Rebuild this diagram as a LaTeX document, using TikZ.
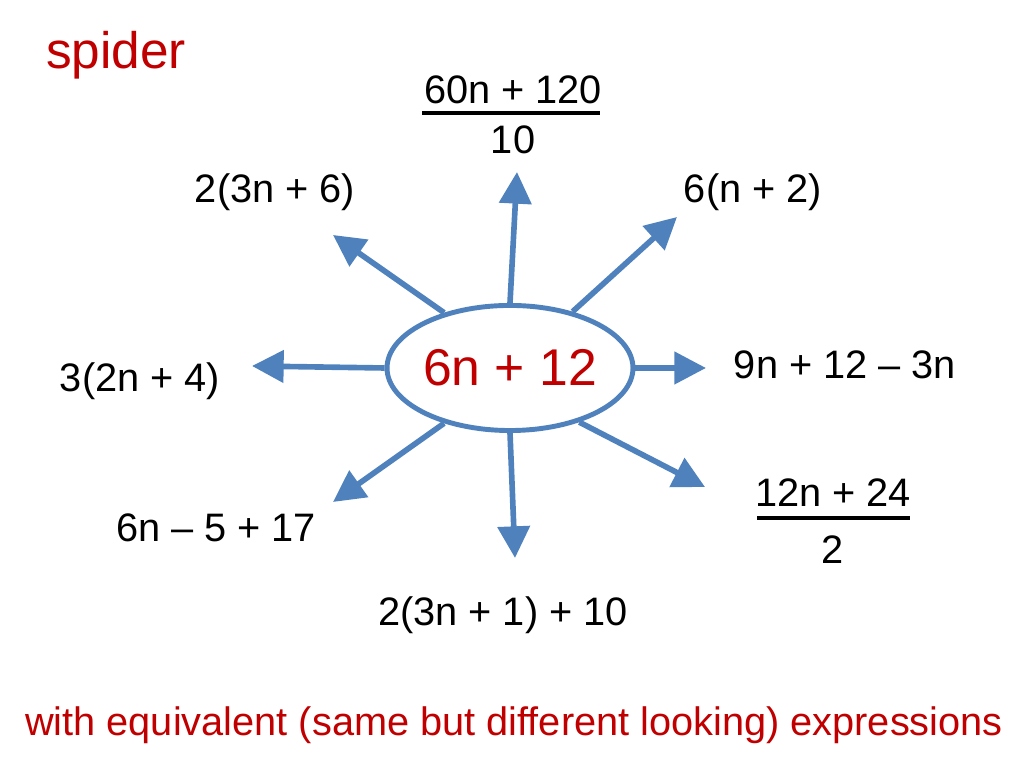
\documentclass[tikz,border=0pt]{standalone}
\usepackage{fontspec}
\setmainfont{Liberation Sans}
\usetikzlibrary{arrows.meta,shapes.geometric}
\definecolor{spiderblue}{RGB}{79,129,189}
\definecolor{spiderred}{RGB}{192,0,0}
\tikzset{
  leg/.style={draw=spiderblue, line width=1.6pt, -{Triangle[length=9pt,width=9pt]}},
  expr/.style={font=\fontsize{11.3pt}{13pt}\selectfont},
}
\begin{document}
\begin{tikzpicture}[x=0.01cm, y=-0.01cm]
\useasboundingbox (0,0) rectangle (1024,768);
% body
\node[draw=spiderblue, line width=1.4pt, ellipse, minimum width=2.2cm, minimum height=1.25cm, inner sep=0pt, font=\fontsize{14.7pt}{17pt}\selectfont, text=spiderred] (body) at (510,368) {6n + 12};
% leg ends
\coordinate (tU) at (517,172);
\coordinate (tUR) at (677,217);
\coordinate (tR) at (706,368);
\coordinate (tDR) at (705,487);
\coordinate (tD) at (515,558);
\coordinate (tDL) at (333,502);
\coordinate (tL) at (252,366);
\coordinate (tUL) at (333,235);
\draw[leg] (body.north) -- (tU);
\draw[leg] (body.42) -- (tUR);
\draw[leg] (body.east) -- (tR);
\draw[leg] (body.-38) -- (tDR);
\draw[leg] (body.south) -- (tD);
\draw[leg] (body.-140) -- (tDL);
\draw[leg] (body.west) -- (tL);
\draw[leg] (body.140) -- (tUL);
% expressions
\node[expr] (upNum) at (513,90) {60n + 120};
\node[expr] (upDen) at (513,140) {10};
\draw[line width=1.2pt] (422,113) -- (600,113);
\node[expr] (ulLab) at (275,192) {2(3n + 6)};
\node[expr] (urLab) at (753,192) {6(n + 2)};
\node[expr] (rLab) at (845,365) {9n + 12 – 3n};
\node[expr] (lLab) at (140,381) {3(2n + 4)};
\node[expr] (drNum) at (833,493) {12n + 24};
\node[expr] (drDen) at (833,550) {2};
\draw[line width=1.2pt] (757,518) -- (910,518);
\node[expr] (dlLab) at (216,528) {6n – 5 + 17};
\node[expr] (dLab) at (503,615) {2(3n + 1) + 10};
% titles
\node[font=\fontsize{14.6pt}{17pt}\selectfont, text=spiderred] (title) at (116,55) {spider};
\node[expr, text=spiderred] (caption) at (514,725) {with equivalent (same but different looking) expressions};
\end{tikzpicture}
\end{document}
